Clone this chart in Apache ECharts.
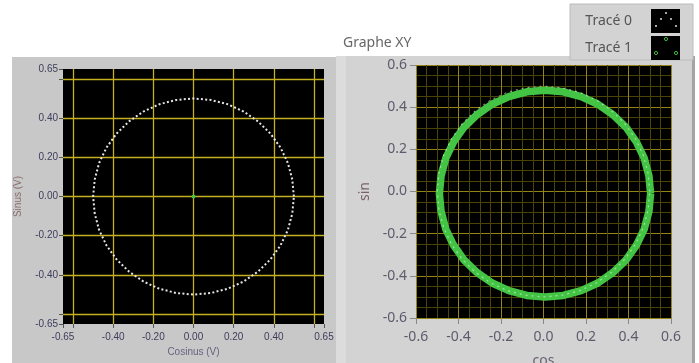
<!DOCTYPE html>
<html>
<head>
<meta charset="utf-8">
<script src="https://cdn.jsdelivr.net/npm/echarts@6/dist/echarts.min.js"></script>
<style>html,body{margin:0;padding:0;background:#fff}#c{width:699px;height:363px}</style>
</head>
<body>
<div id="c"></div>
<script>
// Tracé 0 (cos / sin, white dotted)
const trace0X = [0.5,0.492,0.470,0.433,0.383,0.321,0.25,0.171,0.087,0,-0.087,-0.171,-0.25,-0.321,-0.383,-0.433,-0.470,-0.492,-0.5,-0.492,-0.470,-0.433,-0.383,-0.321,-0.25,-0.171,-0.087,0,0.087,0.171,0.25,0.321,0.383,0.433,0.470,0.492,0.5];
const trace0Y = [0,0.087,0.171,0.25,0.321,0.383,0.433,0.470,0.492,0.5,0.492,0.470,0.433,0.383,0.321,0.25,0.171,0.087,0,-0.087,-0.171,-0.25,-0.321,-0.383,-0.433,-0.470,-0.492,-0.5,-0.492,-0.470,-0.433,-0.383,-0.321,-0.25,-0.171,-0.087,0];
// Tracé 1 in the left graph: a single point at the origin
const trace1LeftX = [0];
const trace1LeftY = [0];
// Tracé 1 in the right graph (green ring)
const trace1X = [0.504,0.496,0.474,0.437,0.388,0.326,0.256,0.177,0.093,0.007,-0.079,-0.163,-0.242,-0.312,-0.374,-0.423,-0.460,-0.482,-0.490,-0.482,-0.460,-0.423,-0.374,-0.312,-0.242,-0.163,-0.079,0.007,0.093,0.177,0.256,0.326,0.388,0.437,0.474,0.496,0.504];
const trace1Y = [-0.01,0.075,0.158,0.235,0.305,0.365,0.414,0.450,0.473,0.480,0.473,0.450,0.414,0.365,0.305,0.235,0.158,0.075,-0.01,-0.095,-0.178,-0.255,-0.325,-0.385,-0.434,-0.470,-0.493,-0.500,-0.493,-0.470,-0.434,-0.385,-0.325,-0.255,-0.178,-0.095,-0.01];
// tick labels
const leftTicks = [-0.65,-0.6,-0.4,-0.2,0,0.2,0.4,0.6,0.65];
const leftLabels = [-0.65,-0.4,-0.2,0,0.2,0.4,0.65];
const leftGrid = [-0.6,-0.4,-0.2,0,0.2,0.4,0.6];

const pairs = (xs, ys) => xs.map((x, i) => [x, ys[i]]);
const smallFont = 'Liberation Sans';
const uiFont = 'Noto Sans';

const chart = echarts.init(document.getElementById('c'));
const leftX = {
  gridIndex: 0, type: 'value', min: -0.65, max: 0.65, position: 'bottom',
  axisLine: {show: false, onZero: false},
  axisTick: {show: true, length: 4, customValues: leftTicks, lineStyle: {color: '#555'}},
  axisLabel: {customValues: leftLabels, formatter: v => v.toFixed(2), fontSize: 10, color: '#3d3d5c', fontFamily: smallFont, margin: 8},
  splitLine: {show: false},
  name: 'Cosinus (V)', nameLocation: 'middle', nameGap: 22,
  nameTextStyle: {fontSize: 10, color: '#6a6080', fontFamily: smallFont}
};
const leftXGrid = {
  gridIndex: 0, type: 'value', min: -0.65, max: 0.65, position: 'bottom',
  axisLine: {show: false, onZero: false}, axisLabel: {show: false},
  axisTick: {show: false, customValues: leftGrid},
  splitLine: {show: true, lineStyle: {color: '#c4b020', width: 1.3}}
};
const leftY = Object.assign({}, leftX, {
  position: 'left',
  axisLabel: {customValues: leftLabels, formatter: v => v.toFixed(2), fontSize: 10, color: '#3d3d5c', fontFamily: smallFont, margin: 5},
  name: 'Sinus (V)', nameGap: 40,
  nameTextStyle: {fontSize: 10, color: '#8a6c6c', fontFamily: smallFont}
});
const leftYGrid = Object.assign({}, leftXGrid, {position: 'left'});
const rightX = {
  gridIndex: 1, type: 'value', min: -0.6, max: 0.6, interval: 0.2, position: 'bottom',
  axisLine: {show: false, onZero: false},
  axisTick: {show: true, length: 6, lineStyle: {color: '#888'}},
  axisLabel: {formatter: v => v.toFixed(1), fontSize: 14, color: '#5c5c6c', fontFamily: uiFont, margin: 12},
  minorTick: {show: false, splitNumber: 4},
  splitLine: {show: true, lineStyle: {color: '#948414', width: 1}},
  minorSplitLine: {show: true, lineStyle: {color: '#4a4406', width: 1}},
  name: 'cos', nameLocation: 'middle', nameGap: 36,
  nameTextStyle: {fontSize: 14, color: '#6a6070', fontFamily: uiFont}
};
const rightY = Object.assign({}, rightX, {
  position: 'left',
  axisLabel: {formatter: v => v.toFixed(1), fontSize: 14, color: '#5c5c6c', fontFamily: uiFont, margin: 9},
  name: 'sin', nameGap: 44,
  nameTextStyle: {fontSize: 14, color: '#7a6468', fontFamily: uiFont}
});

const dot = (x, y, c) => ({type: 'circle', z: 10, shape: {cx: x, cy: y, r: 1}, style: {fill: c}});
const ring = (x, y) => ({type: 'circle', z: 10, shape: {cx: x, cy: y, r: 1.6}, style: {fill: 'none', stroke: '#3cbc3c', lineWidth: 1}});

chart.setOption({
  backgroundColor: '#ffffff',
  animation: false,
  graphic: [
    {type: 'rect', z: -10, shape: {x: 12, y: 57, width: 324, height: 306}, style: {fill: '#c8c8c8'}},
    {type: 'rect', z: -10, shape: {x: 336, y: 56, width: 10, height: 307}, style: {fill: '#dcdcdc'}},
    {type: 'rect', z: -10, shape: {x: 346, y: 56, width: 346, height: 307}, style: {fill: '#d3d3d3'}},
    {type: 'rect', z: -10, shape: {x: 692, y: 56, width: 3, height: 307}, style: {fill: '#a4a4a4'}},
    {type: 'rect', z: -9, shape: {x: 570, y: 4, width: 123, height: 56}, style: {fill: '#d3d3d3', stroke: '#bcbcbc', lineWidth: 1}},
    {type: 'text', z: -9, x: 343, y: 43, style: {text: 'Graphe XY', font: '14px "Noto Sans"', fill: '#666', textVerticalAlign: 'middle'}},
    dot(656, 26, '#ddd'), dot(661, 19, '#ddd'), dot(666, 13, '#ddd'), dot(671, 19, '#ddd'), dot(676, 26, '#ddd'),
    ring(666, 39), ring(656, 53), ring(676, 53)
  ],
  legend: {
    orient: 'vertical', right: 14, top: 4, align: 'right',
    itemWidth: 29, itemHeight: 24, itemGap: 3, icon: 'rect', selectedMode: false,
    data: [
      {name: 'Tracé 0', itemStyle: {color: '#000', borderWidth: 0, opacity: 1}},
      {name: 'Tracé 1', itemStyle: {color: '#000', borderWidth: 0, opacity: 1}}
    ],
    textStyle: {fontSize: 14, color: '#555', fontFamily: uiFont, padding: [0, 14, 0, 0]}
  },
  grid: [
    {left: 63, top: 69, width: 261, height: 255, show: true, backgroundColor: '#000', borderWidth: 0, outerBoundsMode: 'none', containLabel: false},
    {left: 416, top: 65, width: 255, height: 253, show: true, backgroundColor: '#000', borderWidth: 0, outerBoundsMode: 'none', containLabel: false}
  ],
  xAxis: [leftX, leftXGrid, rightX],
  yAxis: [leftY, leftYGrid, rightY],
  series: [
    {name: 'Tracé 0', type: 'line', xAxisIndex: 0, yAxisIndex: 0, data: pairs(trace0X, trace0Y),
     showSymbol: false, color: '#e6e6e6', lineStyle: {color: '#e6e6e6', width: 2, type: [2, 2.3]}},
    {name: 'Tracé 1', type: 'scatter', xAxisIndex: 0, yAxisIndex: 0, data: pairs(trace1LeftX, trace1LeftY),
     symbolSize: 4, color: '#44c444', itemStyle: {color: '#44c444', opacity: 1}},
    {name: 'Tracé 1', type: 'line', xAxisIndex: 2, yAxisIndex: 2, data: pairs(trace1X, trace1Y),
     showSymbol: false, color: '#44c444', lineStyle: {color: '#44c444', width: 7.5}},
    {name: 'Tracé 0', type: 'line', xAxisIndex: 2, yAxisIndex: 2, data: pairs(trace0X, trace0Y),
     showSymbol: false, color: '#e6e6e6', lineStyle: {color: '#e6ffe6', width: 1.2, opacity: 0.55, type: [2, 4]}}
  ]
});
</script>
</body>
</html>
